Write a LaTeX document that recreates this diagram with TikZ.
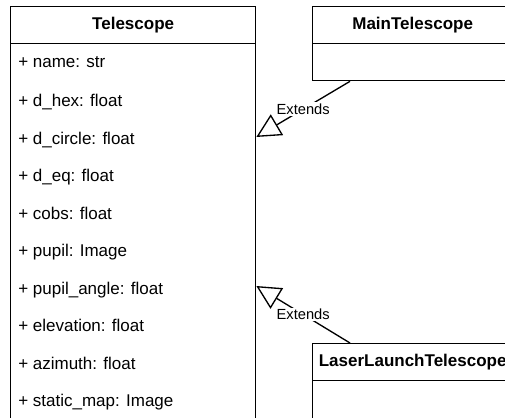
\documentclass[tikz,border=0pt]{standalone}
\usepackage{fontspec}
\setmainfont{Liberation Sans}
\usetikzlibrary{arrows.meta}

\begin{document}
\begin{tikzpicture}[x=0.75pt,y=-0.75pt,
  box/.style={draw,line width=1pt,inner sep=0pt,anchor=north west,font=\fontsize{12.75}{15}\selectfont\bfseries},
  attr/.style={anchor=base west,inner sep=0pt,font=\fontsize{12.75}{15}\selectfont},
  extends/.style={line width=1pt,-{Triangle[open,length=18pt,width=18pt]}},
  lbl/.style={fill=white,inner sep=1pt,font=\fontsize{11}{13}\selectfont}]
  \useasboundingbox (0,0) rectangle (505,417);
  \clip (0,0) rectangle (505,417);

  % Telescope class
  \node[box,minimum width=183.75pt,minimum height=27.75pt] (telhead) at (10,6) {Telescope};
  \node[box,minimum width=183.75pt,minimum height=288pt] (telbody) at (10,43) {};
  \node[attr] (name) at (18,68) {+ name: str};
  \node[attr] (dhex) at (18,106) {+ d\_hex: float};
  \node[attr] (dcircle) at (18,144) {+ d\_circle: float};
  \node[attr] (deq) at (18,181) {+ d\_eq: float};
  \node[attr] (cobs) at (18,219) {+ cobs: float};
  \node[attr] (pupil) at (18,256) {+ pupil: Image};
  \node[attr] (pupilangle) at (18,294) {+ pupil\_angle: float};
  \node[attr] (elevation) at (18,331) {+ elevation: float};
  \node[attr] (azimuth) at (18,369) {+ azimuth: float};
  \node[attr] (staticmap) at (18,406) {+ static\_map: Image};

  % subclasses
  \node[box,minimum width=150pt,minimum height=27.75pt] (mainhead) at (312,6) {MainTelescope};
  \node[box,minimum width=150pt,minimum height=27.75pt] (mainbody) at (312,43) {};
  \node[box,minimum width=150pt,minimum height=27.75pt] (laserhead) at (312,343) {LaserLaunchTelescope};
  \node[box,minimum width=150pt,minimum height=40pt] (laserbody) at (312,380) {};

  \draw[extends] ([xshift=28.5pt]mainbody.south west) -- node[lbl] {Extends} ([yshift=-70.5pt]telbody.north east);
  \draw[extends] ([xshift=28.5pt]laserhead.north west) -- node[lbl] {Extends} ([yshift=-182.25pt]telbody.north east);
\end{tikzpicture}
\end{document}
